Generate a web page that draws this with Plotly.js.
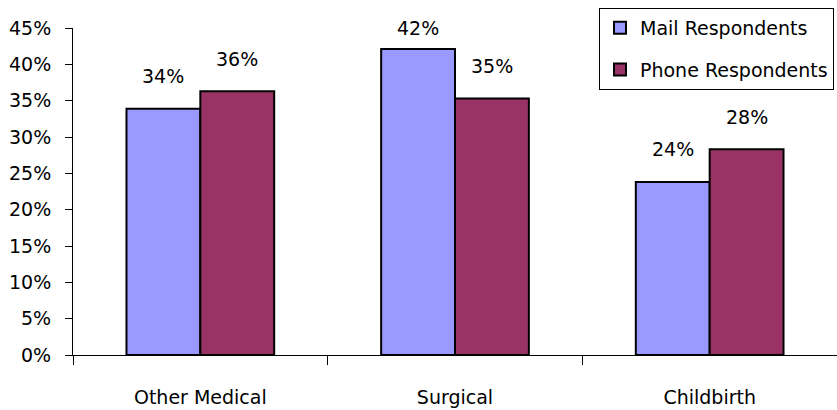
<!DOCTYPE html>
<html>
<head>
<meta charset="utf-8">
<script src="https://cdn.plot.ly/plotly-3.0.1.min.js"></script>
<style>html,body{margin:0;padding:0;background:#fff;}#chart{width:837px;height:410px;}</style>
</head>
<body>
<div id="chart"></div>
<script>
const categories = ["Other Medical", "Surgical", "Childbirth"];
const mailValues = [33.9, 42.1, 23.8];
const phoneValues = [36.3, 35.3, 28.3];
const mailLabels = ["34%", "42%", "24%"];
const phoneLabels = ["36%", "35%", "28%"];
const seriesNames = ["Mail Respondents", "Phone Respondents"];

const FONT = "DejaVu Sans, Verdana, sans-serif";
const FS = 19;

const traces = [
  {type: "bar", name: seriesNames[0], x: categories, y: mailValues, legendgroup: "a",
   marker: {color: "#9999FF", line: {color: "#000", width: 2}}, hoverinfo: "skip"},
  {type: "bar", name: seriesNames[1], x: categories, y: phoneValues, legendgroup: "b",
   marker: {color: "#993366", line: {color: "#000", width: 2}}, hoverinfo: "skip"}
];

const annotations = [];
function addLabels(vals, labels, shift) {
  vals.forEach((v, i) => {
    annotations.push({
      x: i, xref: "x", y: Math.min(v + 4.5, 45), yref: "y",
      xshift: shift, text: labels[i], showarrow: false,
      yanchor: "middle", font: {family: FONT, size: FS, color: "#000"}
    });
  });
}
addLabels(mailValues, mailLabels, -37);
addLabels(phoneValues, phoneLabels, 37);

const layout = {
  width: 837, height: 410,
  margin: {l: 73, r: 0, t: 28, b: 55, autoexpand: false},
  paper_bgcolor: "#fff", plot_bgcolor: "#fff",
  font: {family: FONT, size: FS, color: "#000"},
  barmode: "group", bargap: 0.42, bargroupgap: 0,
  showlegend: true,
  legend: {
    xref: "container", yref: "container",
    x: 599/837, y: 1 - 8/410, xanchor: "left", yanchor: "top",
    bgcolor: "#fff", bordercolor: "#000", borderwidth: 1,
    font: {family: FONT, size: FS, color: "#000"},
    traceorder: "grouped", tracegroupgap: 14, itemclick: false
  },
  xaxis: {
    type: "category", range: [-0.5, 2.5],
    showline: true, linecolor: "#000", linewidth: 1,
    ticks: "outside", tickson: "boundaries", ticklen: 9, tickcolor: "#000", tickwidth: 1,
    ticklabelstandoff: 25,
    showgrid: false, zeroline: false, fixedrange: true
  },
  yaxis: {
    range: [0, 45], dtick: 5, tick0: 0, ticksuffix: "%",
    showline: true, linecolor: "#000", linewidth: 1,
    ticks: "outside", ticklen: 7, tickcolor: "#000", tickwidth: 1,
    ticklabelstandoff: 10,
    showgrid: false, zeroline: false, fixedrange: true
  },
  annotations: annotations
};

Plotly.newPlot("chart", traces, layout, {displayModeBar: false, staticPlot: true});
</script>
</body>
</html>
